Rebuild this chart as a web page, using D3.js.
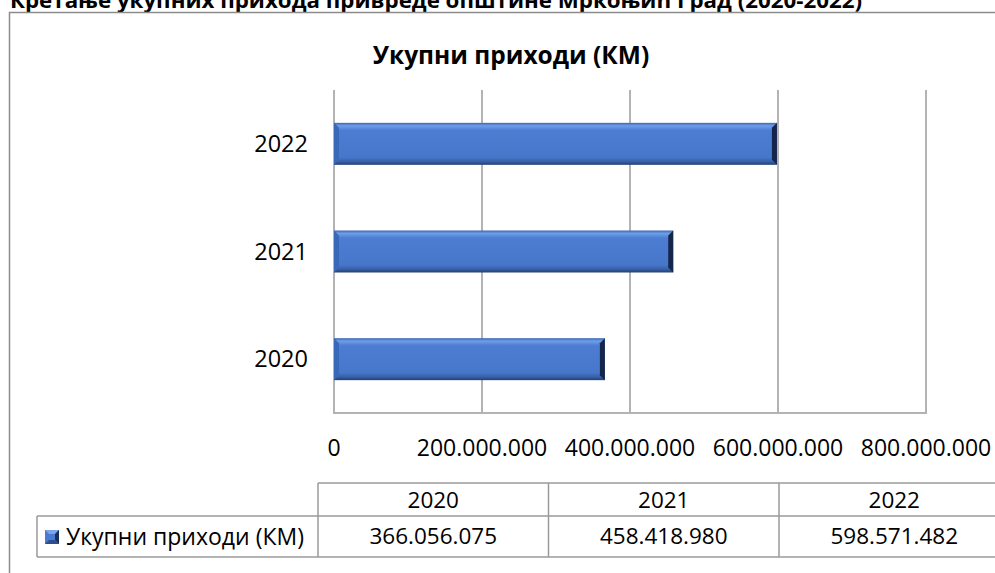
<!DOCTYPE html>
<html>
<head>
<meta charset="utf-8">
<title>Укупни приходи</title>
<script src="https://d3js.org/d3.v7.min.js"></script>
<style>
  body { margin: 0; background: #fff; }
  text { font-family: "Open Sans", "Noto Sans", sans-serif; fill: #000; }
</style>
</head>
<body>
<script>
    // data
    var years = ["2020", "2021", "2022"];
    var revenues = [366056075, 458418980, 598571482];
    var xTicks = [0, 200000000, 400000000, 600000000, 800000000];
    var seriesName = "Укупни приходи (КМ)";
    var pageTitle = "Кретање укупних прихода привреде општине Мркоњић Град (2020-2022)";

    var width = 995, height = 573;

    var locale = d3.formatLocale({decimal: ",", thousands: ".", grouping: [3], currency: ["", ""]});
    var fmt = locale.format(",.0f");

    var svg = d3.select("body").append("svg")
        .attr("width", width)
        .attr("height", height);

    var defs = svg.append("defs");
    var grad = defs.append("linearGradient")
        .attr("id", "barGrad")
        .attr("x1", 0).attr("y1", 0).attr("x2", 0).attr("y2", 1);
    grad.append("stop").attr("offset", "0%").attr("stop-color", "#3b66b4");
    grad.append("stop").attr("offset", "7%").attr("stop-color", "#6f9ee8");
    grad.append("stop").attr("offset", "18%").attr("stop-color", "#4c7dd2");
    grad.append("stop").attr("offset", "82%").attr("stop-color", "#4777cb");
    grad.append("stop").attr("offset", "92%").attr("stop-color", "#3761a8");
    grad.append("stop").attr("offset", "100%").attr("stop-color", "#243f73");

    // page caption, cut by the top edge like in the source
    svg.append("text")
        .attr("x", 10)
        .attr("y", 8)
        .attr("textLength", 852)
        .attr("lengthAdjust", "spacingAndGlyphs")
        .style("font-size", "21px")
        .style("font-weight", "bold")
        .text(pageTitle);

    // outer chart frame (left and top visible)
    svg.append("path")
        .attr("d", "M9.5," + height + "V12.5H" + width)
        .attr("fill", "none")
        .attr("stroke", "#8c8c8c")
        .attr("stroke-width", 1.5);

    // chart title
    svg.append("text")
        .attr("x", 511)
        .attr("y", 64)
        .attr("text-anchor", "middle")
        .style("font-size", "24.5px")
        .style("font-weight", "bold")
        .text(seriesName);

    var plotLeft = 334, plotRight = 926, plotTop = 90, plotBottom = 413;

    var x = d3.scaleLinear()
        .domain([0, 800000000])
        .range([plotLeft, plotRight]);

    var y = d3.scaleBand()
        .domain(years.slice().reverse())
        .range([plotTop, plotBottom])
        .paddingInner(0.61)
        .paddingOuter(0.305);

    // gridlines
    svg.append("g").selectAll("line")
        .data(xTicks)
        .enter()
          .append("line")
          .attr("x1", function(d){ return x(d); })
          .attr("x2", function(d){ return x(d); })
          .attr("y1", plotTop)
          .attr("y2", plotBottom)
          .attr("stroke", "#b3b3b3")
          .attr("stroke-width", 2);

    svg.append("line")
        .attr("x1", plotLeft - 1).attr("x2", plotRight + 1)
        .attr("y1", plotBottom).attr("y2", plotBottom)
        .attr("stroke", "#b3b3b3")
        .attr("stroke-width", 2);

    // x tick labels
    svg.append("g").selectAll("text")
        .data(xTicks)
        .enter()
          .append("text")
          .attr("x", function(d){ return x(d); })
          .attr("y", 448)
          .attr("dy", "0.35em")
          .attr("text-anchor", "middle")
          .style("font-size", "23px")
          .text(function(d){ return fmt(d); });

    // category labels
    svg.append("g").selectAll("text")
        .data(years)
        .enter()
          .append("text")
          .attr("x", 308)
          .attr("y", function(d){ return y(d) + y.bandwidth() / 2; })
          .attr("dy", "0.35em")
          .attr("text-anchor", "end")
          .style("font-size", "23.5px")
          .text(function(d){ return d; });

    // bars with a bevel look
    var bars = svg.append("g").selectAll("g")
        .data(years.map(function(d, i){ return {year: d, value: revenues[i]}; }))
        .enter()
          .append("g");

    bars.append("rect")
        .attr("x", x(0))
        .attr("y", function(d){ return y(d.year); })
        .attr("width", function(d){ return x(d.value) - x(0); })
        .attr("height", y.bandwidth())
        .attr("fill", "url(#barGrad)");

    var bev = 5;
    bars.append("path")   // right end darker
        .attr("d", function(d){
          var x1 = x(d.value), y0 = y(d.year), y1 = y0 + y.bandwidth();
          return "M" + x1 + "," + y0 + "L" + (x1 - bev) + "," + (y0 + bev) +
                 "L" + (x1 - bev) + "," + (y1 - bev) + "L" + x1 + "," + y1 + "Z";
        })
        .attr("fill", "#16264a");
    bars.append("path")   // left end
        .attr("d", function(d){
          var x0 = x(0), y0 = y(d.year), y1 = y0 + y.bandwidth();
          return "M" + x0 + "," + y0 + "L" + (x0 + bev) + "," + (y0 + bev) +
                 "L" + (x0 + bev) + "," + (y1 - bev) + "L" + x0 + "," + y1 + "Z";
        })
        .attr("fill", "#3a68b8");

    // data table
    var tableTop = 483, rowMid = 516, tableBottom = 557;
    var legendLeft = 37, colStart = 318, colW = 230.5;

    var col = d3.scaleBand()
        .domain(years)
        .range([colStart, colStart + colW * years.length]);

    var tbl = svg.append("g")
        .attr("stroke", "#9a9a9a")
        .attr("stroke-width", 1.5);

    tbl.append("line").attr("x1", colStart).attr("x2", width).attr("y1", tableTop).attr("y2", tableTop);
    tbl.append("line").attr("x1", legendLeft).attr("x2", width).attr("y1", rowMid).attr("y2", rowMid);
    tbl.append("line").attr("x1", legendLeft).attr("x2", width).attr("y1", tableBottom).attr("y2", tableBottom);
    tbl.append("line").attr("x1", legendLeft).attr("x2", legendLeft).attr("y1", rowMid).attr("y2", tableBottom);
    tbl.selectAll("line.col")
        .data(years)
        .enter()
          .append("line")
          .attr("class", "col")
          .attr("x1", function(d){ return col(d); })
          .attr("x2", function(d){ return col(d); })
          .attr("y1", tableTop)
          .attr("y2", tableBottom);

    svg.append("g").selectAll("text")
        .data(years)
        .enter()
          .append("text")
          .attr("x", function(d){ return col(d) + col.bandwidth() / 2; })
          .attr("y", (tableTop + rowMid) / 2 + 1)
          .attr("dy", "0.35em")
          .attr("text-anchor", "middle")
          .style("font-size", "22.5px")
          .text(function(d){ return d; });

    svg.append("g").selectAll("text")
        .data(revenues)
        .enter()
          .append("text")
          .attr("x", function(d, i){ return col(years[i]) + col.bandwidth() / 2; })
          .attr("y", (rowMid + tableBottom) / 2)
          .attr("dy", "0.35em")
          .attr("text-anchor", "middle")
          .style("font-size", "22.5px")
          .text(function(d){ return fmt(d); });

    // legend key
    var key = svg.append("g").attr("transform", "translate(45,530)");
    key.append("rect").attr("width", 14).attr("height", 14).attr("fill", "#4a7bd0");
    key.append("path").attr("d", "M0,0L14,0L10,4L4,4Z").attr("fill", "#7aa6ee");
    key.append("path").attr("d", "M14,0L14,14L10,10L10,4Z").attr("fill", "#1c2f5a");
    key.append("path").attr("d", "M0,14L14,14L10,10L4,10Z").attr("fill", "#2d4f8f");

    svg.append("text")
        .attr("x", 66)
        .attr("y", (rowMid + tableBottom) / 2)
        .attr("dy", "0.35em")
        .style("font-size", "23px")
        .text(seriesName);
</script>
</body>
</html>
